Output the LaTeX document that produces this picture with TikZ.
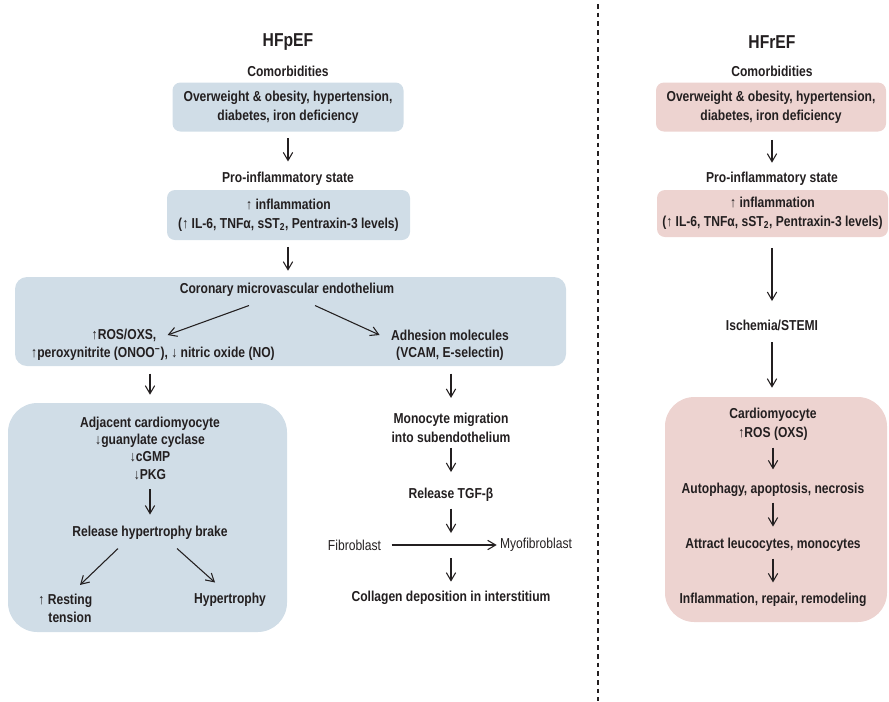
\documentclass[tikz,border=0pt]{standalone}
\usepackage{fontspec}
\setmainfont{Liberation Sans}[FakeStretch=0.84]
\usetikzlibrary{arrows.meta}
\definecolor{ink}{HTML}{231F20}
\definecolor{pefblue}{HTML}{D0DDE7}
\definecolor{refpink}{HTML}{EDD3D0}

\begin{document}
\begin{tikzpicture}[x=0.75pt, y=-0.75pt,
	txt/.style={text=ink, font=\bfseries\fontsize{10.8}{14.25}\selectfont, align=center, inner sep=1pt},
	lighttxt/.style={txt, font=\fontsize{10.8}{14.25}\selectfont},
	title/.style={txt, font=\bfseries\fontsize{14}{16}\selectfont},
	pbox/.style={txt, fill=pefblue, rounded corners=6pt},
	rbox/.style={txt, fill=refpink, rounded corners=6pt},
	panel/.style={inner sep=0pt, rounded corners=22pt},
	arr/.style={draw=ink, line width=0.8pt, -{Straight Barb[length=6pt,width=7pt]}, shorten <=4pt, shorten >=7pt}]
	\useasboundingbox (0,0) rectangle (889,701);
	% HFpEF side
	\node[title] (tL) at (288,42) {HFpEF};
	\node[txt] (cmL) at (288,71) {Comorbidities};
	\node[pbox, minimum width=173.25pt, minimum height=36.75pt] (comL) at (288,107) {Overweight \& obesity, hypertension,\\diabetes, iron deficiency};
	\node[txt] (piL) at (288,179) {Pro-inflammatory state};
	\node[pbox, minimum width=182.25pt, minimum height=37.5pt] (infL) at (288.5,215) {↑ inflammation\\(↑ IL-6, TNFα, sST\textsubscript{2}, Pentraxin-3 levels)};
	\node[panel, fill=pefblue, rounded corners=9pt, minimum width=413.25pt, minimum height=66.75pt] (endoBox) at (290.5,321.5) {};
	\node[txt] (endo) at (287,290) {Coronary microvascular endothelium};
	\node[txt] (ros) at (124,335) {↑ROS/OXS,};
	\node[txt] (perox) at (153,354) {↑peroxynitrite (ONOO\textsuperscript{−}), ↓ nitric oxide (NO)};
	\node[txt] (adh) at (450,335) {Adhesion molecules};
	\node[txt] (vcam) at (450,354) {(VCAM, E-selectin)};
	\node[panel, fill=pefblue, minimum width=209.25pt, minimum height=171.75pt] (cmBox) at (147.5,517.5) {};
	\node[txt, font=\bfseries\fontsize{10.8}{13}\selectfont] (adj) at (150,448) {Adjacent cardiomyocyte\\↓guanylate cyclase\\↓cGMP\\↓PKG};
	\node[txt] (brake) at (150,533) {Release hypertrophy brake};
	\node[txt, font=\bfseries\fontsize{10.8}{13}\selectfont] (rest) at (70,608.5) {\llap{↑ }Resting\\tension};
	\node[txt] (hyp) at (230,600) {Hypertrophy};
	\node[txt] (mono) at (451,427.5) {Monocyte migration\\into subendothelium};
	\node[txt] (tgf) at (451,495) {Release TGF-β};
	\node[lighttxt] (fib) at (354.5,545) {Fibroblast};
	\node[lighttxt] (myo) at (536,545) {Myofibroblast};
	\coordinate (fm) at (tgf |- fib);
	\node[txt] (coll) at (451,598) {Collagen deposition in interstitium};
	\draw[arr, shorten <=4.9pt, shorten >=6.9pt] (comL) -- (piL);
	\draw[arr, shorten <=5pt, shorten >=4.5pt] (infL.south -| piL) -- (piL |- endoBox.north);
	\draw[arr, shorten <=0pt, shorten >=0pt] ([xshift=-28.5pt, yshift=-5.4pt]endo.south) -- ([xshift=7.3pt]ros.east);
	\draw[arr, shorten <=0pt, shorten >=0pt] ([xshift=21pt, yshift=-5.4pt]endo.south) -- ([xshift=-7.5pt]adh.west);
	\draw[arr, shorten <=8.4pt, shorten >=6pt] (perox.south -| adj.north) -- (adj.north |- cmBox.north);
	\draw[arr, shorten <=6.1pt, shorten >=7.6pt] (adj) -- (brake);
	\draw[arr, shorten <=0pt, shorten >=0pt] ([xshift=-24pt, yshift=-5.4pt]brake.south) -- ([xshift=7.5pt, yshift=6pt]rest.north);
	\draw[arr, shorten <=0pt, shorten >=0pt] ([xshift=20.25pt, yshift=-5.4pt]brake.south) -- ([xshift=-11.25pt, yshift=6.9pt]hyp.north);
	\draw[arr, shorten <=8.4pt, shorten >=9.9pt] (vcam.south -| mono.north) -- (mono.north);
	\draw[arr, shorten <=3pt, shorten >=11pt] (mono) -- (tgf);
	\draw[arr, shorten <=4pt, shorten >=9pt] (tgf) -- (fm);
	\draw[arr, shorten <=6.75pt, shorten >=1.3pt] (fib) -- (myo);
	\draw[arr, shorten <=9.75pt, shorten >=6pt] (fm) -- (coll);
	% separator
	\draw[ink, line width=1pt, dash pattern=on 3.5pt off 3pt] (598,4) -- (598,701);
	% HFrEF side
	\node[title] (tR) at (772,42) {HFrEF};
	\node[txt] (cmR) at (772,71) {Comorbidities};
	\node[rbox, minimum width=172.5pt, minimum height=36.75pt] (comR) at (771,107) {Overweight \& obesity, hypertension,\\diabetes, iron deficiency};
	\node[txt] (piR) at (772,179) {Pro-inflammatory state};
	\node[rbox, minimum width=173.25pt, minimum height=35.25pt] (infR) at (772.5,213.5) {↑ inflammation\\(↑ IL-6, TNFα, sST\textsubscript{2}, Pentraxin-3 levels)};
	\node[txt] (isch) at (772,325) {Ischemia/STEMI};
	\node[panel, fill=refpink, minimum width=166.5pt, minimum height=168.75pt] (cardBox) at (776,509.5) {};
	\node[txt] (card) at (773,424.5) {Cardiomyocyte\\↑ROS (OXS)};
	\node[txt] (auto) at (773,490) {Autophagy, apoptosis, necrosis};
	\node[txt] (attr) at (773,545) {Attract leucocytes, monocytes};
	\node[txt] (infl) at (773,600) {Inflammation, repair, remodeling};
	\draw[arr, shorten <=6pt, shorten >=6pt] (comR.south -| piR) -- (piR);
	\draw[arr, shorten <=8pt, shorten >=12.75pt] (infR.south -| isch) -- (isch);
	\draw[arr, shorten <=7.6pt, shorten >=6.75pt] (isch) -- (isch |- cardBox.north);
	\draw[arr, shorten <=3.9pt, shorten >=9.2pt] (card) -- (auto);
	\draw[arr, shorten <=3.2pt, shorten >=7.6pt] (auto) -- (attr);
	\draw[arr, shorten <=3.9pt, shorten >=6.9pt] (attr) -- (infl);
\end{tikzpicture}
\end{document}
